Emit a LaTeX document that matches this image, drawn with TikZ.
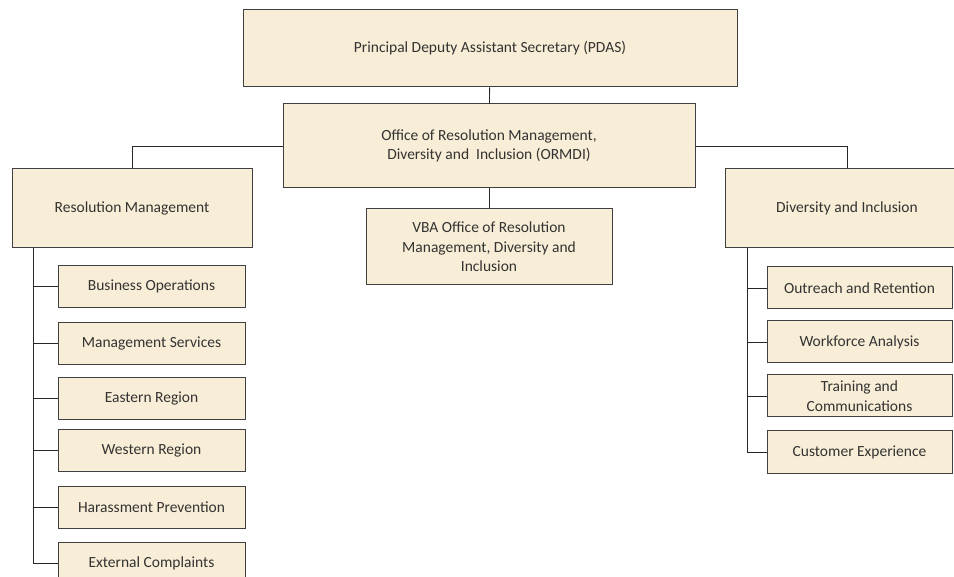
\documentclass[tikz,border=0pt]{standalone}
\usepackage{fontspec}
\setmainfont{Carlito}
\usetikzlibrary{positioning}
\definecolor{parchment}{HTML}{F8EDD6}
\definecolor{boxedge}{HTML}{404040}
\tikzset{
  unit/.style={%
    fill=parchment,
    draw=boxedge, line width=1pt,
    inner sep=0pt,
    align=center,
    text=black!80,
    font=\fontsize{15.5}{19.5}\selectfont
  },
  subunit/.style={%
    unit,
    minimum width=187pt,
    minimum height=42pt
  },
  link/.style={%
    draw=black!85, line width=0.9pt
  }%
}

\begin{document}
\begin{tikzpicture}[x=1pt,y=-1pt]
\useasboundingbox[fill=white] (0,0) rectangle (954,577);

% Top of the chart
\node[unit, minimum width=494pt, minimum height=77pt] (PDAS) at (490,48.5)
  {Principal Deputy Assistant Secretary (PDAS)};
\node[unit, minimum width=412pt, minimum height=84pt] (ORMDI) at (489,146)
  {Office of Resolution Management,\\Diversity and\ \ Inclusion (ORMDI)};
\node[unit, minimum width=246pt, minimum height=76pt] (VBA) at (489,247)
  {VBA Office of Resolution\\Management,\ Diversity and\\Inclusion};

% The two branches. The D&I box runs past the right edge of the page.
\node[unit, minimum width=240pt, minimum height=79pt] (ResMgmt) at (132,208.5)
  {Resolution Management};
\node[unit, minimum width=244pt, minimum height=79pt] (DivIncl) at (847,208.5)
  {Diversity and Inclusion};

% Offices under Resolution Management
\node[subunit] (BizOps) at (151.5,286.5) {Business Operations};
\node[subunit, below=14pt of BizOps] (MgmtSvc) {Management Services};
\node[subunit, below=12pt of MgmtSvc] (East) {Eastern Region};
\node[subunit, below=9pt of East] (West) {Western Region};
\node[subunit, below=14pt of West] (Harass) {Harassment Prevention};
\node[subunit, below=13pt of Harass] (ExtComp) {External Complaints};

% Offices under Diversity and Inclusion
\node[subunit, minimum width=185pt] (Outreach) at (859.5,288) {Outreach and Retention};
\node[subunit, minimum width=185pt, below=11pt of Outreach] (Workforce) {Workforce Analysis};
\node[subunit, minimum width=185pt, below=11pt of Workforce] (Training)
  {Training and\\Communications};
\node[subunit, minimum width=185pt, below=13pt of Training] (CustExp) {Customer Experience};

% Spines for the two lists of offices
\coordinate (rmSpine) at (ResMgmt.south -| 33,0);
\coordinate (diSpine) at (DivIncl.south -| 747,0);

\draw[link] (PDAS) -- (ORMDI);
\draw[link] (ORMDI) -- (VBA);
\draw[link] (ORMDI.west) -| (ResMgmt.north);
\draw[link] (ORMDI.east) -| (DivIncl.north);

\foreach \office in {BizOps,MgmtSvc,East,West,Harass,ExtComp}
  \draw[link] (rmSpine) |- (\office.west);
\foreach \office in {Outreach,Workforce,Training,CustExp}
  \draw[link] (diSpine) |- (\office.west);

\end{tikzpicture}
\end{document}
